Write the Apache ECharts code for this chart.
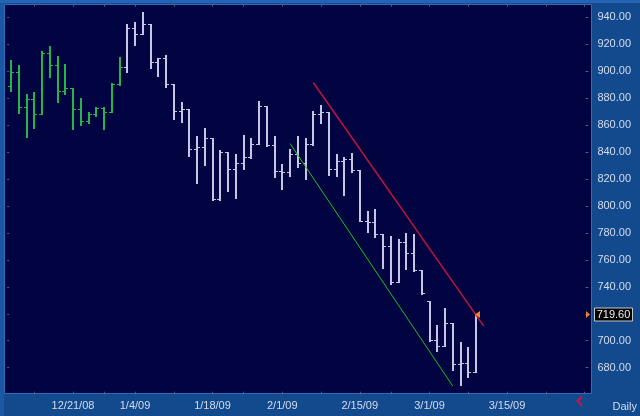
<!DOCTYPE html>
<html><head><meta charset="utf-8">
<script src="https://cdn.jsdelivr.net/npm/echarts@6/dist/echarts.min.js"></script>
<style>html,body{margin:0;padding:0;background:#134a8e;}#c{width:640px;height:416px;}</style>
</head><body><div id="c"></div>
<script>
// ---- data (S&P 500 daily bars) ----
const dates = ['12/10/08','12/11/08','12/12/08','12/15/08','12/16/08','12/17/08','12/18/08','12/19/08','12/22/08','12/23/08','12/24/08','12/26/08','12/29/08','12/30/08','12/31/08',
'1/2/09','1/5/09','1/6/09','1/7/09','1/8/09','1/9/09','1/12/09','1/13/09','1/14/09','1/15/09','1/16/09','1/20/09','1/21/09','1/22/09','1/23/09','1/26/09','1/27/09','1/28/09','1/29/09','1/30/09',
'2/2/09','2/3/09','2/4/09','2/5/09','2/6/09','2/9/09','2/10/09','2/11/09','2/12/09','2/13/09','2/17/09','2/18/09','2/19/09','2/20/09','2/23/09','2/24/09','2/25/09','2/26/09','2/27/09',
'3/2/09','3/3/09','3/4/09','3/5/09','3/6/09','3/9/09','3/10/09'];
const futureDates = ['3/11/09','3/12/09','3/13/09','3/16/09','3/17/09','3/18/09','3/19/09','3/20/09','3/23/09','3/24/09','3/25/09','3/26/09','3/27/09','3/30/09'];
const opens = [888.67,899.24,873.59,879.73,868.57,913.18,904.42,885.28,887.88,871.63,863.16,868.15,872.80,869.42,890.64,
903.25,931.80,927.45,934.70,906.65,909.73,890.35,870.26,871.79,842.62,843.74,850.12,805.22,840.24,827.50,831.95,836.57,845.71,874.09,845.14,
825.88,825.44,838.51,832.23,845.85,868.60,869.89,827.16,833.74,835.19,826.84,789.17,788.42,778.94,770.05,743.33,773.14,764.90,752.83,
729.57,700.82,696.33,712.87,682.55,683.38,676.53];
const highs = [908.27,904.63,883.24,884.63,914.66,918.85,911.02,905.47,887.88,880.44,869.79,873.74,873.70,891.12,910.32,
934.73,936.63,943.85,934.70,910.00,911.93,890.40,877.02,871.79,851.59,858.13,850.12,841.72,840.24,838.61,852.53,850.45,877.86,874.09,851.66,
830.78,842.60,851.85,850.55,870.75,875.01,869.89,838.22,836.41,839.43,826.84,796.17,797.58,778.94,777.85,775.49,780.12,779.42,752.83,
729.57,711.67,724.12,712.87,699.09,695.27,719.60];
const lows = [885.45,868.73,851.35,857.72,868.57,895.94,877.44,883.02,857.09,860.10,861.44,866.52,857.07,869.42,889.67,
899.35,919.53,927.28,902.37,896.81,888.31,864.32,862.02,836.93,817.04,830.66,804.47,804.30,811.29,806.07,827.69,835.40,845.71,844.15,821.67,
812.87,821.98,829.18,819.91,845.42,861.65,822.99,822.30,808.06,825.21,789.17,780.43,777.03,754.25,742.37,743.33,752.89,751.75,734.52,
699.70,692.30,696.33,677.93,666.79,672.88,676.53];
const closes = [899.24,873.59,879.73,868.57,913.18,904.42,885.28,887.88,871.63,863.16,868.15,872.80,869.42,890.64,903.25,
931.80,927.45,934.70,906.65,909.73,890.35,870.26,871.79,842.62,843.74,850.12,805.22,840.24,827.50,831.95,836.57,845.71,874.09,845.14,825.88,
825.44,838.51,832.23,845.85,868.60,869.89,827.16,833.74,835.19,826.84,789.17,788.42,778.94,770.05,743.33,773.14,764.90,752.83,735.09,
700.82,696.33,712.87,682.55,683.38,676.53,719.60];
const yTicks = [680,700,720,740,760,780,800,820,840,860,880,900,920,940];
const weekLabels = ['12/21/08','1/4/09','1/18/09','2/1/09','2/15/09','3/1/09','3/15/09'];
const redTrend = [[39, 891.6],[61, 710.8]];
const greenTrend = [[36, 846.4],[57, 666.4]];
const lastPrice = 719.60;
const periodLabel = 'Daily';

// ---- helpers ----
const cats = dates.concat(futureDates);
function dayNum(s){const p=s.split('/');return Date.UTC(2000+(+p[2]),+p[0]-1,+p[1])/86400000;}
function weekKey(s){const d=dayNum(s);const dow=new Date(d*86400000).getUTCDay();return d-dow;}
const tickSet = new Set();
for(let i=1;i<cats.length;i++){ if(weekKey(cats[i])!==weekKey(cats[i-1])) tickSet.add(i); }
const labelMap = {};
weekLabels.forEach(w=>{const k=weekKey(w);for(const i of tickSet){ if(weekKey(cats[i])===k){labelMap[i]=w;break;} }});
const bars = dates.map((d,i)=>[i,opens[i],highs[i],lows[i],closes[i], d.endsWith('/08')?1:0]);

const txt = '#d3dcee';
const font = '"Liberation Sans", Arial, sans-serif';
const tickStyle = {color:'#4d5c8c', width:1};

const chart = echarts.init(document.getElementById('c'), null, {renderer:'canvas'});
const opt = {
  animation:false,
  backgroundColor:'#134a8e',
  grid:{left:7.125, right:51.625, top:3.82, bottom:21.35, containLabel:false, outerBoundsMode:'none'},
  xAxis:[
    {type:'category', data:cats, position:'bottom', boundaryGap:true,
     axisLine:{show:false}, splitLine:{show:false},
     axisTick:{show:true, inside:true, alignWithLabel:true, length:3, interval:(i)=>tickSet.has(i), lineStyle:tickStyle},
     axisLabel:{show:true, interval:(i)=>labelMap[i]!==undefined, formatter:(v,i)=>labelMap[i]||'', color:txt, fontSize:11, fontFamily:font, margin:6}},
    {type:'category', data:cats, position:'top', boundaryGap:true,
     axisLine:{show:false}, splitLine:{show:false},
     axisTick:{show:true, inside:true, alignWithLabel:true, length:3, interval:(i)=>tickSet.has(i), lineStyle:tickStyle},
     axisLabel:{show:false}}
  ],
  yAxis:[
    {type:'value', position:'right', min:660, max:950, interval:20,
     axisLine:{show:false}, splitLine:{show:false},
     axisTick:{show:true, inside:true, length:3, lineStyle:tickStyle, customValues:yTicks},
     axisLabel:{customValues:yTicks, formatter:(v)=>v.toFixed(2), color:txt, fontSize:11, fontFamily:font, margin:9}},
    {type:'value', position:'left', min:660, max:950, interval:20,
     axisLine:{show:false}, splitLine:{show:false},
     axisTick:{show:true, inside:true, length:2, lineStyle:tickStyle, customValues:yTicks},
     axisLabel:{show:false}}
  ],
  series:[
    {type:'custom', xAxisIndex:0, yAxisIndex:0, data:bars, encode:{x:0, y:[1,2,3,4]}, silent:true, z:3,
     renderItem:function(params, api){
       const i=api.value(0);
       const c = api.value(5) ? '#27b446' : '#c6c6e4';
       const po=api.coord([i,api.value(1)]), ph=api.coord([i,api.value(2)]), pl=api.coord([i,api.value(3)]), pc=api.coord([i,api.value(4)]);
       const x=Math.round(po[0]);
       const yo=Math.round(po[1])+0.5, yc=Math.round(pc[1])+0.5;
       return {type:'group', children:[
         {type:'line', shape:{x1:x, y1:Math.round(ph[1]), x2:x, y2:Math.round(pl[1])+1}, style:{stroke:c, lineWidth:2}},
         {type:'line', shape:{x1:x-3, y1:yo, x2:x-1, y2:yo}, style:{stroke:c, lineWidth:1}},
         {type:'line', shape:{x1:x+1, y1:yc, x2:x+3, y2:yc}, style:{stroke:c, lineWidth:1}}
       ]};
     }},
    {type:'line', xAxisIndex:0, yAxisIndex:0, data:redTrend, showSymbol:false, silent:true, z:4,
     lineStyle:{color:'#c0143c', width:1.5}},
    {type:'line', xAxisIndex:0, yAxisIndex:0, data:greenTrend, showSymbol:false, silent:true, z:4,
     lineStyle:{color:'#1fc21f', width:1}}
  ]
};
chart.setOption(opt);

const lp = chart.convertToPixel({xAxisIndex:0, yAxisIndex:0}, [dates.length-1, lastPrice]);
const py = Math.round(lp[1])+0.5;
const bx = Math.round(lp[0]);
chart.setOption({graphic:{elements:[
  {type:'rect', z:-1, silent:true, shape:{x:0,y:0,width:640,height:3}, style:{fill:'#2563b4'}},
  {type:'rect', z:-1, silent:true, shape:{x:0,y:3,width:4,height:413}, style:{fill:'#1a58a4'}},
  {type:'rect', z:-1, silent:true, shape:{x:4.5,y:4.5,width:587,height:389}, style:{fill:'#010440', stroke:'#2e6cbc', lineWidth:1}},
  {type:'polygon', z:10, silent:true, shape:{points:[[bx-1,py],[bx+4,py-3.5],[bx+4,py+3.5]]}, style:{fill:'#f0841e'}},
  {type:'polygon', z:10, silent:true, shape:{points:[[586,py-3.5],[590,py],[586,py+3.5]]}, style:{fill:'#f0841e'}},
  {type:'rect', z:10, silent:true, shape:{x:594.5,y:py-6.5,width:38,height:13}, style:{fill:'#000000', stroke:'#c8c8c8', lineWidth:1}},
  {type:'text', z:11, silent:true, style:{text:lastPrice.toFixed(2), x:613.5, y:py, align:'center', verticalAlign:'middle', fill:'#f2f2f2', font:'11px '+font}},
  {type:'polyline', z:10, silent:true, shape:{points:[[582,396.5],[577.5,401],[582,405.5]]}, style:{stroke:'#d0143c', lineWidth:2, fill:null}},
  {type:'text', z:10, silent:true, style:{text:periodLabel, x:637, y:406.5, align:'right', verticalAlign:'middle', fill:txt, font:'11px '+font}}
]}});
</script></body></html>
